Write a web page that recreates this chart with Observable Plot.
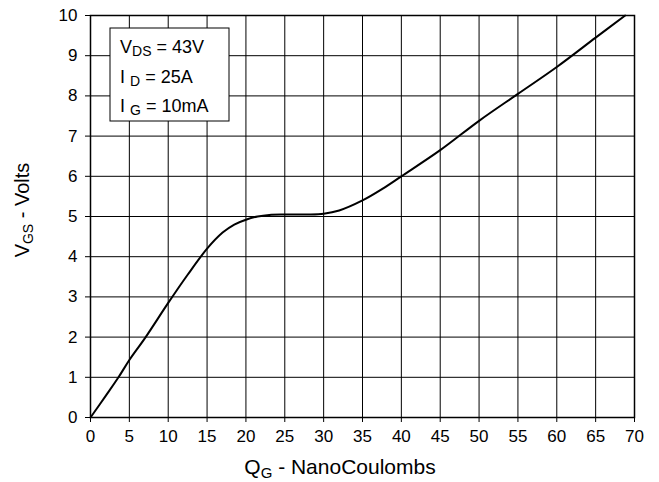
<!DOCTYPE html>
<html><head><meta charset="utf-8">
<script src="https://cdn.jsdelivr.net/npm/d3@7"></script>
<script src="https://cdn.jsdelivr.net/npm/@observablehq/plot@0.6"></script>
<style>body{margin:0;background:#fff} svg{font-family:"Liberation Sans",Arial,sans-serif}</style>
</head><body><div id="chart"></div>
<script>
const qg  = [0, 2, 3.6, 5, 7.1, 10, 12.5, 15, 17, 18.5, 20, 21.5, 23, 25, 28, 30, 32, 35, 37.5, 40, 45, 50, 55, 60, 65, 68.8];
const vgs = [0, 0.55, 1.0, 1.43, 2.0, 2.85, 3.55, 4.2, 4.6, 4.8, 4.92, 5.0, 5.04, 5.05, 5.05, 5.07, 5.15, 5.4, 5.68, 6.0, 6.65, 7.38, 8.05, 8.72, 9.45, 10];
const xTicks = [0, 5, 10, 15, 20, 25, 30, 35, 40, 45, 50, 55, 60, 65, 70];
const yTicks = [0, 1, 2, 3, 4, 5, 6, 7, 8, 9, 10];
const legendLines = [["V", "DS", " = 43V"], ["I ", "D", " = 25A"], ["I ", "G", " = 10mA"]];

const data = qg.map((q, i) => ({q, v: vgs[i]}));

const chart = Plot.plot({
  width: 659, height: 482,
  marginLeft: 90, marginRight: 25, marginTop: 15, marginBottom: 65,
  style: {fontFamily: '"Liberation Sans", Arial, sans-serif', fontSize: "17px", color: "#000", background: "#fff"},
  x: {domain: [0, 70]},
  y: {domain: [0, 10]},
  marks: [
    Plot.gridX(xTicks, {stroke: "#000", strokeOpacity: 1, strokeWidth: 1}),
    Plot.gridY(yTicks, {stroke: "#000", strokeOpacity: 1, strokeWidth: 1}),
    Plot.frame({stroke: "#000", strokeWidth: 1.5}),
    Plot.axisX(xTicks, {tickSize: 5, tickPadding: 7, fontSize: 17, label: null}),
    Plot.axisY(yTicks, {tickSize: 5, tickPadding: 8, fontSize: 17, label: null}),
    Plot.line(data, {x: "q", y: "v", curve: "catmull-rom", stroke: "#000", strokeWidth: 2})
  ]
});
document.getElementById("chart").appendChild(chart);

const svg = d3.select(chart);
// x title
const xt = svg.append("text").attr("x", 340).attr("y", 474).attr("text-anchor", "middle")
  .attr("font-size", 21).attr("fill", "#000");
xt.append("tspan").text("Q");
xt.append("tspan").attr("font-size", 15).attr("dy", 4).text("G");
xt.append("tspan").attr("dy", -4).text(" - NanoCoulombs");
// y title
const yt = svg.append("text").attr("transform", "translate(29,210) rotate(-90)").attr("text-anchor", "middle")
  .attr("font-size", 20).attr("fill", "#000");
yt.append("tspan").text("V");
yt.append("tspan").attr("font-size", 14).attr("dy", 4).text("GS");
yt.append("tspan").attr("dy", -4).text(" - Volts");
// legend box
svg.append("rect").attr("x", 110).attr("y", 28).attr("width", 119).attr("height", 93)
  .attr("fill", "#fff").attr("stroke", "#000").attr("stroke-width", 1);
legendLines.forEach((l, i) => {
  const t = svg.append("text").attr("x", 120).attr("y", 53 + i * 29.5).attr("text-anchor", "start")
    .attr("font-size", 18).attr("fill", "#000");
  t.append("tspan").text(l[0]);
  t.append("tspan").attr("font-size", 14).attr("dy", 3).text(l[1]);
  t.append("tspan").attr("dy", -3).text(l[2]);
});
</script></body></html>
